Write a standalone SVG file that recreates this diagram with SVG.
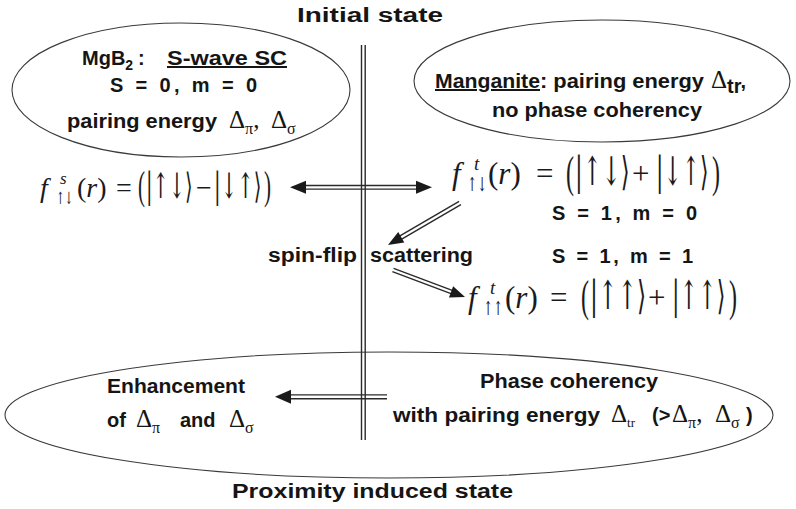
<svg xmlns="http://www.w3.org/2000/svg" width="796" height="509" viewBox="0 0 796 509">
<style>
.t { font-family: "Liberation Sans", Arial, sans-serif; font-weight: bold; font-size: 20px; fill: #151515; }
.g { font-family: "Liberation Serif", "DejaVu Serif", serif; font-weight: normal; fill: #151515; }
.m { font-family: "Liberation Serif", "DejaVu Serif", "DejaVu Sans", serif; fill: #1a1a22; }
.k { font-family: "DejaVu Serif", "DejaVu Sans", serif; font-weight: normal; }
.i { font-style: italic; }
.el { fill: none; stroke: #3a3a3a; stroke-width: 1.1; }
.dl { stroke: #2a2a2a; stroke-width: 1.4; fill: none; }
.ah { fill: #1a1a1a; }
.ul { text-decoration: underline; }
</style>
<rect width="796" height="509" fill="#ffffff"/>

<text id="title-initial" class="t" x="297" y="22" font-size="21" textLength="146" lengthAdjust="spacingAndGlyphs">Initial state</text>
<text id="title-proximity" class="t" x="232" y="498" font-size="22" textLength="281" lengthAdjust="spacingAndGlyphs">Proximity induced state</text>

<g id="node-mgb2">
  <ellipse class="el" cx="181" cy="90" rx="169" ry="67"/>
  <text class="t" x="82" y="65">MgB<tspan font-size="14" dy="5">2</tspan><tspan dy="-5" x="138">:</tspan></text>
  <text class="t ul" x="167" y="65" textLength="120" lengthAdjust="spacingAndGlyphs">S-wave SC</text>
  <text class="t" x="110" y="92" textLength="147" lengthAdjust="spacing">S = 0, m = 0</text>
  <text class="t" x="67" y="128" textLength="150" lengthAdjust="spacingAndGlyphs">pairing energy</text>
  <text class="g" x="229" y="128" font-size="25">Δ<tspan font-size="16" dy="6">π</tspan><tspan dy="-6">,</tspan><tspan x="271">Δ</tspan><tspan font-size="16" dy="6">σ</tspan></text>
</g>

<g id="node-manganite">
  <ellipse class="el" cx="602" cy="81" rx="188" ry="61"/>
  <text class="t ul" x="435" y="88" textLength="105" lengthAdjust="spacingAndGlyphs">Manganite</text>
  <text class="t" x="540" y="88" textLength="164" lengthAdjust="spacingAndGlyphs">: pairing energy</text>
  <text class="g" x="711" y="88" font-size="25">Δ<tspan class="t" font-size="15" dy="5">tr</tspan><tspan class="t" dy="-5">,</tspan></text>
  <text class="t" x="492" y="117" textLength="210" lengthAdjust="spacingAndGlyphs">no phase coherency</text>
</g>

<g id="node-singlet" class="m">
  <text class="i" x="40" y="197" font-size="28">f</text>
  <text class="i" x="60" y="184" font-size="17">s</text>
  <text class="k" transform="translate(56,204) scale(0.72,1.2)" font-size="14">↑↓</text>
  <text x="77" y="197" font-size="28">(<tspan class="i">r</tspan>)</text>
  <text x="116" y="197" font-size="28">=</text>
  <text transform="translate(138,199) scale(0.7,1.35)" font-size="30">(</text>
  <text class="k" transform="translate(146,198) scale(0.72,1.3)" font-size="27">|↑↓⟩</text>
  <text x="196" y="197" font-size="28">−</text>
  <text class="k" transform="translate(214,198) scale(0.73,1.3)" font-size="27">|↓↑⟩</text>
  <text transform="translate(264,199) scale(0.7,1.35)" font-size="30">)</text>
</g>

<g id="node-triplet0" class="m">
  <text class="i" x="452" y="184" font-size="31">f</text>
  <text class="i" x="474" y="170" font-size="19">t</text>
  <text class="k" transform="translate(467,191) scale(0.75,1.2)" font-size="16">↑↓</text>
  <text x="488" y="184" font-size="31">(<tspan class="i">r</tspan>)</text>
  <text x="536" y="184" font-size="31">=</text>
  <text transform="translate(566,187) scale(0.75,1.4)" font-size="32">(</text>
  <text class="k" transform="translate(575,185) scale(0.76,1.32)" font-size="30">|↑↓⟩</text>
  <text x="632" y="184" font-size="31">+</text>
  <text class="k" transform="translate(656,185) scale(0.73,1.32)" font-size="30">|↓↑⟩</text>
  <text transform="translate(712,187) scale(0.75,1.4)" font-size="32">)</text>
</g>

<g id="node-s1m0">
  <text class="t" x="552" y="220" textLength="145" lengthAdjust="spacing">S = 1, m = 0</text>
</g>
<g id="node-s1m1">
  <text class="t" x="552" y="263" textLength="141" lengthAdjust="spacing">S = 1, m = 1</text>
</g>

<g id="node-spinflip">
  <text class="t" x="268" y="262" textLength="89" lengthAdjust="spacingAndGlyphs">spin-flip</text>
  <text class="t" x="370" y="262" textLength="103" lengthAdjust="spacingAndGlyphs">scattering</text>
</g>

<g id="node-triplet1" class="m">
  <text class="i" x="468" y="308" font-size="31">f</text>
  <text class="i" x="490" y="294" font-size="19">t</text>
  <text class="k" transform="translate(483,315) scale(0.75,1.2)" font-size="16">↑↑</text>
  <text x="505" y="308" font-size="31">(<tspan class="i">r</tspan>)</text>
  <text x="550" y="308" font-size="31">=</text>
  <text transform="translate(581,311) scale(0.75,1.4)" font-size="32">(</text>
  <text class="k" transform="translate(590,309) scale(0.78,1.32)" font-size="30">|↑↑⟩</text>
  <text x="648" y="308" font-size="31">+</text>
  <text class="k" transform="translate(672,309) scale(0.74,1.32)" font-size="30">|↑↑⟩</text>
  <text transform="translate(729,311) scale(0.75,1.4)" font-size="32">)</text>
</g>

<g id="node-proximity">
  <ellipse class="el" cx="389" cy="415" rx="384" ry="63"/>
  <text class="t" x="107" y="393" textLength="138" lengthAdjust="spacingAndGlyphs">Enhancement</text>
  <text class="t" x="107" y="427">of</text>
  <text class="g" x="136" y="427" font-size="25">Δ<tspan font-size="16" dy="6">π</tspan></text>
  <text class="t" x="180" y="427">and</text>
  <text class="g" x="229" y="427" font-size="25">Δ<tspan font-size="16" dy="6">σ</tspan></text>
  <text class="t" x="480" y="388" textLength="178" lengthAdjust="spacingAndGlyphs">Phase coherency</text>
  <text class="t" x="393" y="422" textLength="207" lengthAdjust="spacingAndGlyphs">with pairing energy</text>
  <text class="g" x="611" y="422" font-size="25">Δ<tspan font-size="13" dy="5">tr</tspan></text>
  <text class="t" x="652" y="422">(&gt;</text>
  <text class="g" x="672" y="422" font-size="25">Δ<tspan font-size="16" dy="6">π</tspan><tspan dy="-6">,</tspan><tspan x="715">Δ</tspan><tspan font-size="16" dy="6">σ</tspan></text>
  <text class="t" x="746" y="422">)</text>
</g>

<g id="connectors">
  <line class="dl" x1="361.5" y1="45" x2="361.5" y2="440"/>
  <line class="dl" x1="365.2" y1="45" x2="365.2" y2="440"/>
  <g transform="translate(290,187.3)">
    <line class="dl" x1="14" y1="-1.8" x2="128" y2="-1.8"/>
    <line class="dl" x1="14" y1="1.8" x2="128" y2="1.8"/>
    <polygon class="ah" points="0,0 16,-6.5 16,6.5"/>
    <polygon class="ah" points="142,0 126,-6.5 126,6.5"/>
  </g>
  <g transform="translate(460,203) rotate(149.74)">
    <line class="dl" x1="0" y1="-1.8" x2="71" y2="-1.8"/>
    <line class="dl" x1="0" y1="1.8" x2="71" y2="1.8"/>
    <polygon class="ah" points="83.4,0 68,-6 68,6"/>
  </g>
  <g transform="translate(393,270) rotate(20.56)">
    <line class="dl" x1="0" y1="-1.8" x2="64" y2="-1.8"/>
    <line class="dl" x1="0" y1="1.8" x2="64" y2="1.8"/>
    <polygon class="ah" points="76.9,0 62,-6 62,6"/>
  </g>
  <g transform="translate(387,396.8) rotate(180)">
    <line class="dl" x1="0" y1="-1.9" x2="99" y2="-1.9"/>
    <line class="dl" x1="0" y1="1.9" x2="99" y2="1.9"/>
    <polygon class="ah" points="112,0 96,-7 96,7"/>
  </g>
</g>
</svg>
